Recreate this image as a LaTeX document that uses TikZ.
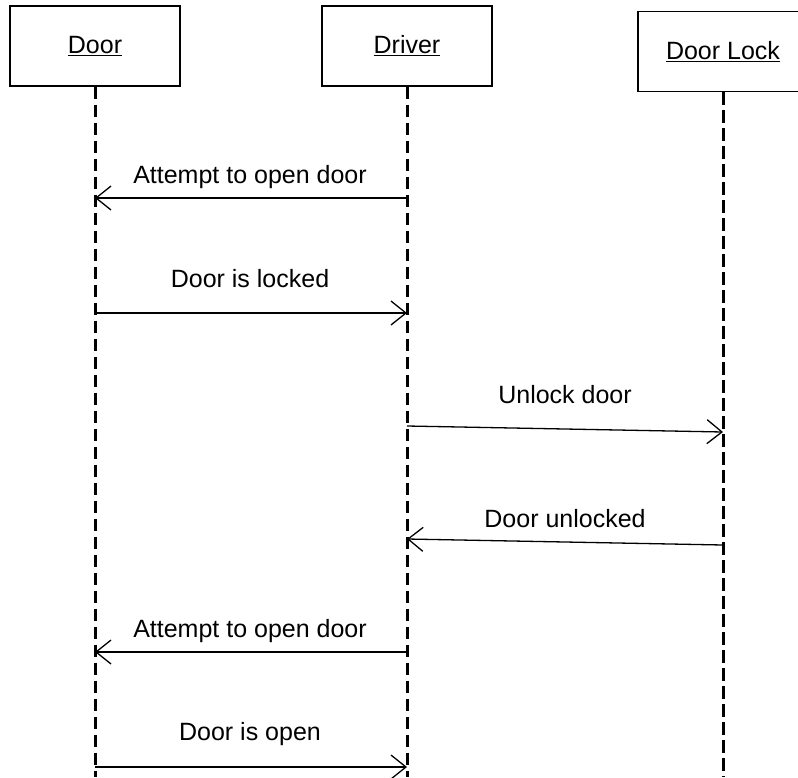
\documentclass[tikz,border=0pt]{standalone}
\usepackage{fontspec}
\setmainfont{Liberation Sans}
\usetikzlibrary{arrows.meta}
\begin{document}
\begin{tikzpicture}[x=1pt,y=-1pt,
  obj/.style={draw,line width=1.2pt,minimum width=170pt,minimum height=80pt,inner sep=0pt,font=\fontsize{25}{30}\selectfont},
  life/.style={line width=3pt,dash pattern=on 12.5pt off 5.5pt},
  msg/.style={line width=1.3pt,-{Straight Barb[length=15pt,width=24pt,line width=1.3pt]}},
  lbl/.style={anchor=base,inner sep=0pt,font=\fontsize{25}{30}\selectfont}]
\useasboundingbox (0,0) rectangle (798,777);
\begin{scope}
\clip (0,0) rectangle (798,777);
\node[obj] (door) at (95,46) {\underline{Door}};
\node[obj] (driver) at (407,46) {\underline{Driver}};
\node[obj] (lock) at (723,51.5) {\underline{Door Lock}};
\coordinate (doorEnd) at (95,777);
\coordinate (driverEnd) at (407,777);
\coordinate (lockEnd) at (723,777);
\draw[life] (door.south) -- (doorEnd);
\draw[life] (driver.south) -- (driverEnd);
\draw[life] (lock.south) -- (lockEnd);

\coordinate (a1s) at (407,198); \coordinate (a1e) at (95,198);
\coordinate (a2s) at (95,313); \coordinate (a2e) at (407,313);
\coordinate (a3s) at (407,426); \coordinate (a3e) at (723,432);
\coordinate (a4s) at (723,545); \coordinate (a4e) at (407,539);
\coordinate (a5s) at (407,652); \coordinate (a5e) at (95,652);
\coordinate (a6s) at (95,767); \coordinate (a6e) at (407,767);

\draw[msg] (a1s) -- (a1e);
\draw[msg] (a2s) -- (a2e);
\draw[msg] (a3s) -- (a3e);
\draw[msg] (a4s) -- (a4e);
\draw[msg] (a5s) -- (a5e);
\draw[msg] (a6s) -- (a6e);

\node[lbl] (l1) at (250,183) {Attempt to open door};
\node[lbl] (l2) at (250,287) {Door is locked};
\node[lbl] (l3) at (565,403) {Unlock door};
\node[lbl] (l4) at (565,527) {Door unlocked};
\node[lbl] (l5) at (250,637) {Attempt to open door};
\node[lbl] (l6) at (250,740) {Door is open};
\end{scope}
\end{tikzpicture}
\end{document}
